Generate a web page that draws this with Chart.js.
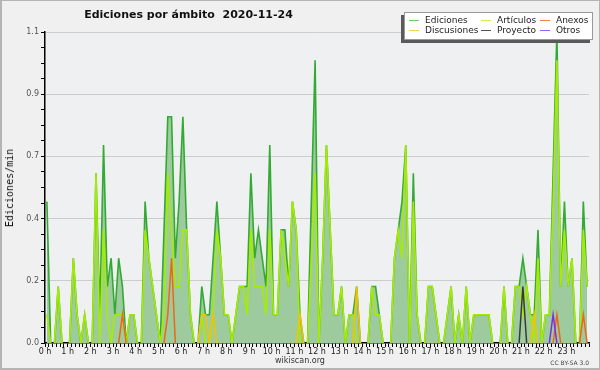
<!DOCTYPE html>
<html><head><meta charset="utf-8">
<script src="https://cdn.jsdelivr.net/npm/chart.js@4"></script>
<style>
html,body{margin:0;padding:0;background:#f0f0f0;}
#wrap{position:relative;width:600px;height:370px;overflow:hidden;background:#f0f0f0;font-family:'DejaVu Sans',sans-serif;}
#c{position:absolute;left:0;top:0;}
.t{position:absolute;white-space:nowrap;}
#title{left:0;width:377px;text-align:center;top:8px;font:bold 11px/13px 'DejaVu Sans';color:#111;}
#ytitle{left:10px;top:187.5px;transform:translate(-50%,-50%) rotate(-90deg);font:10px/12px 'DejaVu Sans Mono';color:#111;}
#src{left:0;width:600px;text-align:center;top:356px;font:8px/10px 'DejaVu Sans';color:#333;}
#lic{right:11px;top:359px;font:6px/7px 'DejaVu Sans';color:#444;}
#legend{position:absolute;left:404px;top:12px;width:189px;height:28px;box-sizing:border-box;background:#fff;border:1px solid #999;box-shadow:-3px 3px 0 #5a5a5a;}
#legend .ln{position:absolute;width:10px;height:1px;}
#legend .lt{position:absolute;font:9px/10px 'DejaVu Sans';color:#222;white-space:nowrap;}
#frame{position:absolute;left:0;top:0;width:600px;height:370px;box-sizing:border-box;border:1px solid #b4b4b4;border-left-width:2px;border-bottom-width:2px;pointer-events:none;}
</style></head><body>
<div id="wrap">
<canvas id="c" width="600" height="370"></canvas>
<div class="t" id="title">Ediciones por ámbito&nbsp;&nbsp;2020-11-24</div>
<div class="t" id="ytitle">Ediciones/min</div>
<div id="legend"></div>
<div class="t" id="src">wikiscan.org</div>
<div class="t" id="lic">CC BY-SA 3.0</div>
<div id="frame"></div>
</div>
<script>
// ---- data (edits per minute, 10-minute bins, 6 per hour) ----
const hourLabels = ['0 h','1 h','2 h','3 h','4 h','5 h','6 h','7 h','8 h','9 h','10 h','11 h',
  '12 h','13 h','14 h','15 h','16 h','17 h','18 h','19 h','20 h','21 h','22 h','23 h'];
const yTickLabels = ['0.0','0.2','0.4','0.7','0.9','1.1'];
const yMax = 1.1;

const ediciones = [
  0.5,0,0,0.2,0,0,
  0,0.3,0.1,0,0.1,0,
  0,0.6,0.1,0.7,0.2,0.3,
  0.1,0.3,0.2,0,0.1,0.1,
  0,0,0.5,0.3,0.2,0.1,
  0,0.4,0.8,0.8,0.3,0.5,
  0.8,0.4,0.1,0,0,0.2,
  0.1,0.1,0.3,0.5,0.3,0.1,
  0.1,0,0.1,0.2,0.2,0.2,
  0.6,0.3,0.4,0.3,0.2,0.7,
  0.1,0.1,0.4,0.4,0.2,0.5,
  0.4,0.1,0,0,0.5,1.0,
  0,0.3,0.7,0.4,0.1,0.1,
  0.2,0,0.1,0.1,0.2,0,
  0,0,0.2,0.2,0.1,0,
  0,0,0.3,0.4,0.5,0.7,
  0,0.6,0.1,0,0,0.2,
  0.2,0.1,0,0,0.1,0.2,
  0,0.1,0,0.2,0,0.1,
  0.1,0.1,0.1,0.1,0,0,
  0,0.2,0,0,0.2,0.2,
  0.3,0.2,0.1,0.1,0.4,0,
  0.1,0.1,0.6,1.1,0.2,0.5,
  0.2,0.3,0,0,0.5,0.2
];
const articulos = [
  0.1,0,0,0.2,0,0,
  0,0.3,0.1,0,0.1,0,
  0,0.6,0,0.4,0.1,0,
  0.1,0.1,0.1,0,0.1,0.1,
  0,0,0.4,0.3,0.2,0.1,
  0,0.1,0.6,0.4,0.2,0.2,
  0.4,0.4,0.1,0,0,0.1,
  0,0,0.1,0.4,0.3,0.1,
  0.1,0,0.1,0.2,0.2,0.1,
  0.4,0.2,0.2,0.2,0.1,0.4,
  0.1,0.1,0.4,0.3,0.2,0.5,
  0.4,0,0,0,0.3,0.6,
  0,0.3,0.7,0.4,0.1,0.1,
  0.2,0,0.1,0.1,0,0,
  0,0,0.2,0.1,0.1,0,
  0,0,0.3,0.4,0.3,0.7,
  0,0.5,0.1,0,0,0.2,
  0.2,0.1,0,0,0.1,0.2,
  0,0.1,0,0.2,0,0.1,
  0.1,0.1,0.1,0.1,0,0,
  0,0.2,0,0,0.2,0.2,
  0.1,0.2,0.1,0,0.3,0,
  0.1,0.1,0.5,1.0,0.2,0.4,
  0.2,0.3,0,0,0.4,0.2
];
const anexos = [
  0,0,0,0,0,0, 0,0,0,0,0,0, 0,0,0,0,0,0, 0,0,0.1,0,0,0,
  0,0,0,0,0,0, 0,0,0.1,0.3,0,0, 0,0,0,0,0,0, 0,0,0,0,0,0,
  0,0,0,0,0,0, 0,0,0,0,0,0, 0,0,0,0,0,0, 0,0,0,0,0,0,
  0,0,0,0,0,0, 0,0,0,0,0,0, 0,0,0,0,0,0, 0,0,0,0,0,0,
  0,0,0,0,0,0, 0,0,0,0,0,0, 0,0,0,0,0,0, 0,0,0,0,0,0,
  0,0,0,0,0,0, 0,0,0,0,0,0, 0,0,0,0.1,0,0, 0,0,0,0,0.1,0
];
const discusiones = [
  0,0,0,0,0,0, 0,0,0,0,0,0, 0,0,0,0,0,0, 0,0,0,0,0,0,
  0,0,0,0,0,0, 0,0,0,0,0,0, 0,0,0,0,0,0.1, 0.1,0,0.1,0,0,0,
  0,0,0,0,0,0, 0,0,0,0,0,0, 0,0,0,0,0,0, 0,0.1,0,0,0,0,
  0,0,0,0,0,0, 0,0,0,0,0.2,0, 0,0,0,0,0,0, 0,0,0,0,0,0,
  0,0,0,0,0,0, 0,0,0,0,0,0, 0,0,0,0,0,0, 0,0,0,0,0,0,
  0,0,0,0,0,0, 0,0,0,0.1,0,0, 0,0,0,0,0,0, 0,0,0,0,0,0
];
const proyecto = [
  0,0,0,0,0,0, 0,0,0,0,0,0, 0,0,0,0,0,0, 0,0,0,0,0,0,
  0,0,0,0,0,0, 0,0,0,0,0,0, 0,0,0,0,0,0, 0,0,0,0,0,0,
  0,0,0,0,0,0, 0,0,0,0,0,0, 0,0,0,0,0,0, 0,0,0,0,0,0,
  0,0,0,0,0,0, 0,0,0,0,0,0, 0,0,0,0,0,0, 0,0,0,0,0,0,
  0,0,0,0,0,0, 0,0,0,0,0,0, 0,0,0,0,0,0, 0,0,0,0,0,0,
  0,0,0,0,0,0, 0.2,0,0,0,0,0, 0,0,0,0,0,0, 0,0,0,0,0,0
];
const otros = [
  0,0,0,0,0,0, 0,0,0,0,0,0, 0,0,0,0,0,0, 0,0,0,0,0,0,
  0,0,0,0,0,0, 0,0,0,0,0,0, 0,0,0,0,0,0, 0,0,0,0,0,0,
  0,0,0,0,0,0, 0,0,0,0,0,0, 0,0,0,0,0,0, 0,0,0,0,0,0,
  0,0,0,0,0,0, 0,0,0,0,0,0, 0,0,0,0,0,0, 0,0,0,0,0,0,
  0,0,0,0,0,0, 0,0,0,0,0,0, 0,0,0,0,0,0, 0,0,0,0,0,0,
  0,0,0,0,0,0, 0,0,0,0,0,0, 0,0,0.1,0,0,0, 0,0,0,0,0,0
];

const seriesNames = ['Ediciones','Artículos','Anexos','Discusiones','Proyecto','Otros'];
const seriesColors = ['#33aa33','#a6ec00','#ee6618','#f2c400','#3a3a3a','#7a2ee8'];
const legendColors = ['#6fcf6f','#c8ef50','#f08050','#f8d050','#555555','#9a60f0'];

// ---- build ----
const binCount = ediciones.length;
const perHour = binCount / hourLabels.length;
const toXY = arr => arr.map((v, i) => ({ x: i + 0.5, y: v }));
const hideFlat = ctx => (ctx.p0.parsed.y === 0 && ctx.p1.parsed.y === 0) ? 'rgba(0,0,0,0)' : undefined;
const allSeries = [ediciones, articulos, anexos, discusiones, proyecto, otros];

function mk(idx, extra) {
  return Object.assign({
    label: seriesNames[idx],
    data: toXY(allSeries[idx]),
    borderColor: seriesColors[idx],
    borderWidth: 1.5,
    pointRadius: 0,
    tension: 0,
    fill: false,
    segment: { borderColor: hideFlat }
  }, extra || {});
}

// draw order: last dataset drawn first (bottom)
const datasets = [
  mk(5), mk(4), mk(2), mk(3),
  mk(1, { borderWidth: 1.6 }),
  mk(0, { fill: 'origin', backgroundColor: 'rgb(158,203,158)', borderWidth: 1.6 })
];

const areaBg = {
  id: 'areaBg',
  beforeDraw(chart) {
    const a = chart.chartArea, ctx = chart.ctx;
    ctx.save();
    ctx.fillStyle = '#eff0f2';
    ctx.fillRect(a.left, a.top, a.right - a.left, a.bottom - a.top);
    ctx.restore();
  }
};

Chart.defaults.font.family = "'DejaVu Sans'";
new Chart(document.getElementById('c'), {
  type: 'line',
  data: { datasets },
  plugins: [areaBg],
  options: {
    responsive: false,
    animation: false,
    devicePixelRatio: 1,
    layout: { padding: { top: 32, right: 11, left: 0, bottom: 0 } },
    plugins: { legend: { display: false }, title: { display: false }, tooltip: { enabled: false } },
    scales: {
      x: {
        type: 'linear', min: 0, max: binCount,
        afterBuildTicks: s => { const t = []; for (let v = 0; v <= binCount; v++) t.push({ value: v }); s.ticks = t; },
        afterFit: s => { s.height = 27; },
        ticks: {
          autoSkip: false, maxRotation: 0, minRotation: 0, padding: 0,
          font: { size: 8 }, color: '#222',
          callback: v => (v % perHour === 0 && v / perHour < hourLabels.length) ? hourLabels[v / perHour] : ''
        },
        grid: { drawOnChartArea: false, tickLength: 4, tickColor: '#000', tickWidth: 1 },
        border: { color: '#000', width: 1.5 }
      },
      y: {
        type: 'linear', min: 0, max: yMax,
        afterBuildTicks: s => { const t = []; for (let k = 0; k <= 20; k++) t.push({ value: k * yMax / 20 }); s.ticks = t; },
        afterFit: s => { s.width = 45; },
        ticks: {
          autoSkip: false, padding: 2, font: { size: 8 }, color: '#555',
          callback: (v, i) => (i % 4 === 0) ? yTickLabels[i / 4] : ''
        },
        grid: {
          color: c => (c.index % 4 === 0 && c.index > 0) ? '#cccccc' : 'rgba(0,0,0,0)',
          tickColor: '#000', tickLength: 4, tickWidth: 1
        },
        border: { color: '#000', width: 1.5 }
      }
    }
  }
});

// ---- legend (HTML) ----
const legendPos = [ [0,0], [1,0], [2,0], [0,1], [1,1], [2,1] ];
const legendOrder = [0,1,2,3,4,5];
const colX = [4, 76, 135];
const rowY = [7, 17];
const lg = document.getElementById('legend');
legendOrder.forEach((si, k) => {
  const [c, r] = legendPos[k];
  const ln = document.createElement('div');
  ln.className = 'ln';
  ln.style.left = colX[c] + 'px';
  ln.style.top = rowY[r] + 'px';
  ln.style.background = legendColors[si];
  lg.appendChild(ln);
  const tx = document.createElement('div');
  tx.className = 'lt';
  tx.style.left = (colX[c] + 16) + 'px';
  tx.style.top = (rowY[r] - 5) + 'px';
  tx.textContent = seriesNames[si];
  lg.appendChild(tx);
});
</script>
</body></html>
